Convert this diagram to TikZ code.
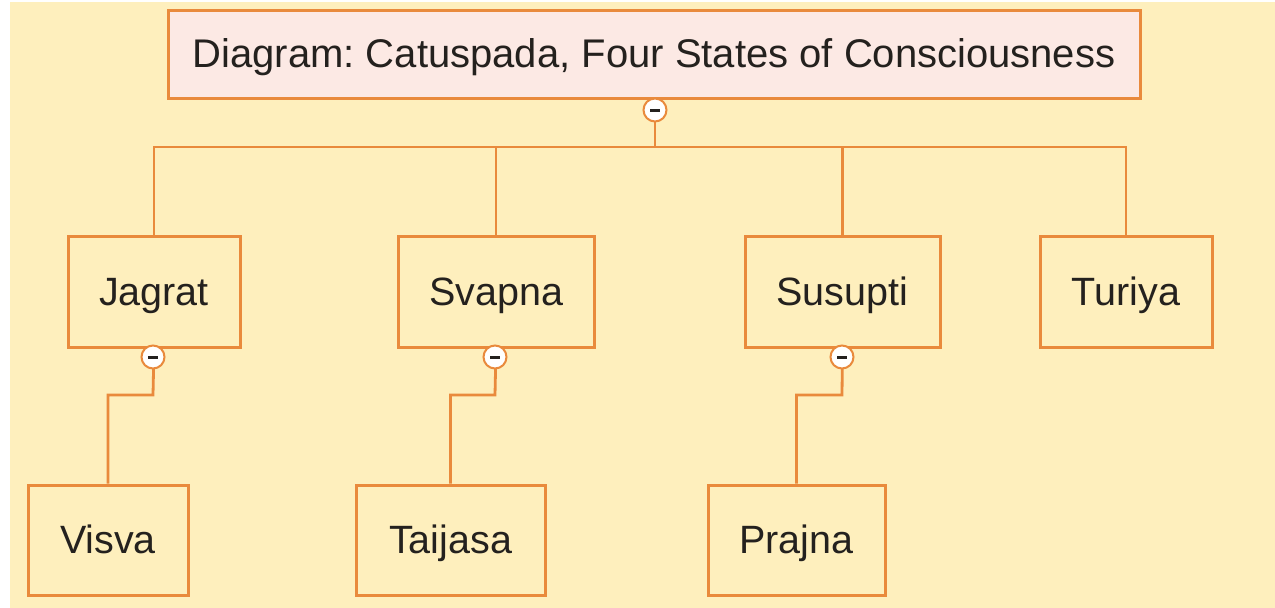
\documentclass[tikz,border=0pt]{standalone}
\usepackage{fontspec}
\setmainfont{Liberation Sans}
\frenchspacing
\definecolor{paper}{HTML}{FEEFBD}
\definecolor{edge}{HTML}{E98A3C}
\definecolor{rootfill}{HTML}{FCE9E4}
\definecolor{ink}{HTML}{24211E}
\tikzset{
  treebox/.style={draw=edge, line width=3pt, fill=paper, inner sep=0pt,
    font=\fontsize{39.5}{44}\selectfont, text=ink,
    text height=27pt, text depth=0pt},
  rootbox/.style={treebox, fill=rootfill, font=\fontsize{40}{44}\selectfont},
  link/.style={draw=edge, line width=2.8pt},
  toggle/.style={circle, draw=edge, line width=2pt, fill=white, minimum size=23pt, inner sep=0pt},
}
\begin{document}
\begin{tikzpicture}[x=1pt,y=-1pt]
  \useasboundingbox (0,0) rectangle (1275,608);
  \fill[white] (0,0) rectangle (1275,608);
  \fill[paper] (10,2) rectangle (1275,608);

  % boxes
  \node[rootbox, minimum width=972pt, minimum height=88pt] (root) at (654,54) {Diagram: Catuspada, Four States of Consciousness};
  \node[treebox, minimum width=172pt, minimum height=111pt] (jagrat) at (154,291.5) {Jagrat};
  \node[treebox, minimum width=196pt, minimum height=111pt] (svapna) at (496,291.5) {Svapna};
  \node[treebox, minimum width=195pt, minimum height=111pt] (susupti) at (842.5,291.5) {Susupti};
  \node[treebox, minimum width=172pt, minimum height=111pt] (turiya) at (1126,291.5) {Turiya};
  \node[treebox, minimum width=160pt, minimum height=110pt] (visva) at (108,540) {Visva};
  \node[treebox, minimum width=189pt, minimum height=110pt] (taijasa) at (450.5,540) {Taijasa};
  \node[treebox, minimum width=177pt, minimum height=110pt] (prajna) at (796.5,540) {Prajna};

  % bus and joints
  \coordinate (bus) at (655,147);
  \coordinate (j1) at (153,395);
  \coordinate (j2) at (495,395);
  \coordinate (j3) at (842,395);

  % connectors
  \draw[link] (root.south -| bus) -- (bus);
  \draw[link] (jagrat.north) |- (bus) -| (turiya.north);
  \draw[link] (svapna.north) |- (bus);
  \draw[link] (susupti.north) |- (bus);

  \draw[link] (jagrat.south) -- (j1) -| (visva.north);
  \draw[link] (svapna.south) -- (j2) -| (taijasa.north);
  \draw[link] (susupti.south) -- (j3) -| (prajna.north);

  % collapse toggles
  \foreach \n/\x/\y in {t0/655/110, t1/153/357, t2/495/357, t3/842/357}{
    \node[toggle] (\n) at (\x,\y) {};
    \draw[ink, line width=3pt] ([xshift=-5pt]\n.center) -- ([xshift=5pt]\n.center);
  }
\end{tikzpicture}
\end{document}
